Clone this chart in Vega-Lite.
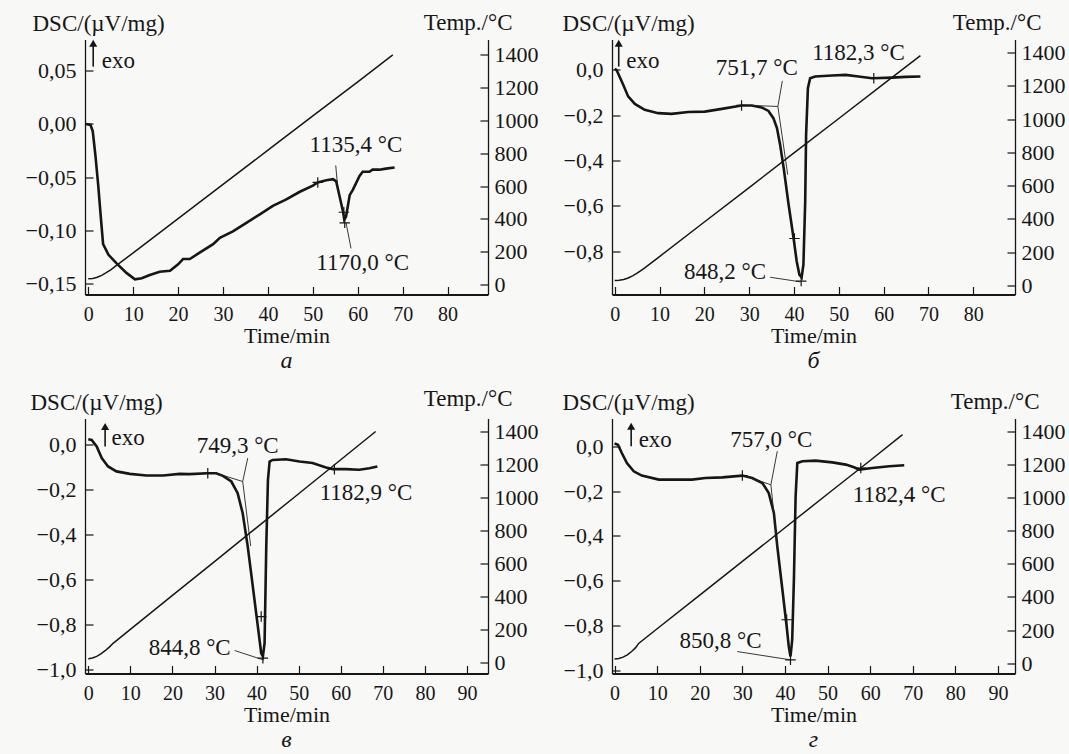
{
  "$schema": "https://vega.github.io/schema/vega-lite/v6.json",
  "autosize": {"type": "none"},
  "padding": {"left": 85, "top": 39.5, "right": 984, "bottom": 714.5},
  "background": "#f8f8f6",
  "config": {
    "view": {"stroke": null},
    "font": "Liberation Serif, Times New Roman, DejaVu Serif, serif",
    "axis": {"grid": false, "labelFont": "Liberation Serif, Times New Roman, DejaVu Serif, serif", "labelFontSize": 22, "labelColor": "#161616", "titleFont": "Liberation Serif, Times New Roman, DejaVu Serif, serif", "titleFontSize": 23, "titleFontWeight": "normal", "titleColor": "#161616", "domainColor": "#161616", "tickColor": "#161616", "tickSize": -8, "tickWidth": 1.2, "domainWidth": 1.3},
    "axisBottom": {"labelFontSize": 20, "titleFontSize": 22, "labelPadding": 18, "titleY": 31, "titleBaseline": "top", "domainWidth": 2},
    "axisLeft": {"labelPadding": 17, "titleAngle": 0, "titleAlign": "left", "titleBaseline": "middle", "titleY": -16},
    "axisRight": {"labelPadding": 14, "titleAngle": 0, "titleAlign": "right", "titleBaseline": "middle", "titleX": 24, "titleY": -17},
    "title": {"font": "Liberation Serif, Times New Roman, DejaVu Serif, serif", "fontSize": 24, "fontStyle": "italic", "fontWeight": "normal", "color": "#161616", "orient": "bottom", "baseline": "top", "offset": 2},
    "text": {"font": "Liberation Serif, Times New Roman, DejaVu Serif, serif", "fontSize": 23, "color": "#161616"}
  },
  "datasets": {
    "dsc": [
      {"p":"a","t":-0.5,"v":0.0},{"p":"a","t":0.5,"v":-0.001},{"p":"a","t":1.0,"v":-0.007},{"p":"a","t":1.6,"v":-0.03},{"p":"a","t":2.2,"v":-0.057},{"p":"a","t":2.8,"v":-0.088},{"p":"a","t":3.3,"v":-0.113},{"p":"a","t":4.5,"v":-0.123},{"p":"a","t":6.3,"v":-0.131},{"p":"a","t":8.5,"v":-0.14},{"p":"a","t":10.4,"v":-0.146},{"p":"a","t":11.9,"v":-0.145},{"p":"a","t":13.7,"v":-0.142},{"p":"a","t":15.9,"v":-0.139},{"p":"a","t":18.2,"v":-0.138},{"p":"a","t":20.0,"v":-0.132},{"p":"a","t":21.1,"v":-0.127},{"p":"a","t":22.6,"v":-0.127},{"p":"a","t":24.8,"v":-0.121},{"p":"a","t":27.8,"v":-0.113},{"p":"a","t":29.3,"v":-0.107},{"p":"a","t":32.2,"v":-0.101},{"p":"a","t":35.2,"v":-0.093},{"p":"a","t":38.2,"v":-0.085},{"p":"a","t":41.1,"v":-0.077},{"p":"a","t":44.1,"v":-0.071},{"p":"a","t":47.0,"v":-0.064},{"p":"a","t":50.0,"v":-0.058},{"p":"a","t":51.1,"v":-0.055},{"p":"a","t":53.0,"v":-0.053},{"p":"a","t":54.5,"v":-0.052},{"p":"a","t":55.2,"v":-0.054},{"p":"a","t":55.9,"v":-0.067},{"p":"a","t":56.7,"v":-0.082},{"p":"a","t":57.0,"v":-0.09},{"p":"a","t":57.4,"v":-0.087},{"p":"a","t":58.2,"v":-0.067},{"p":"a","t":58.9,"v":-0.062},{"p":"a","t":60.4,"v":-0.049},{"p":"a","t":61.1,"v":-0.045},{"p":"a","t":62.6,"v":-0.045},{"p":"a","t":63.3,"v":-0.043},{"p":"a","t":64.8,"v":-0.043},{"p":"a","t":66.3,"v":-0.042},{"p":"a","t":68.2,"v":-0.041},
      {"p":"b","t":0.0,"v":0.005},{"p":"b","t":0.4,"v":0.0},{"p":"b","t":0.75,"v":-0.015},{"p":"b","t":1.9,"v":-0.066},{"p":"b","t":3.0,"v":-0.117},{"p":"b","t":4.5,"v":-0.15},{"p":"b","t":6.7,"v":-0.176},{"p":"b","t":9.7,"v":-0.191},{"p":"b","t":12.7,"v":-0.194},{"p":"b","t":16.4,"v":-0.186},{"p":"b","t":20.1,"v":-0.184},{"p":"b","t":23.9,"v":-0.172},{"p":"b","t":28.3,"v":-0.157},{"p":"b","t":30.6,"v":-0.157},{"p":"b","t":32.8,"v":-0.166},{"p":"b","t":34.3,"v":-0.181},{"p":"b","t":35.4,"v":-0.213},{"p":"b","t":36.2,"v":-0.257},{"p":"b","t":36.9,"v":-0.33},{"p":"b","t":37.7,"v":-0.433},{"p":"b","t":38.8,"v":-0.595},{"p":"b","t":39.9,"v":-0.742},{"p":"b","t":40.6,"v":-0.844},{"p":"b","t":41.2,"v":-0.903},{"p":"b","t":41.7,"v":-0.915},{"p":"b","t":42.1,"v":-0.859},{"p":"b","t":42.5,"v":-0.58},{"p":"b","t":42.7,"v":-0.286},{"p":"b","t":43.1,"v":-0.081},{"p":"b","t":43.6,"v":-0.037},{"p":"b","t":44.7,"v":-0.029},{"p":"b","t":48.5,"v":-0.025},{"p":"b","t":51.5,"v":-0.022},{"p":"b","t":54.4,"v":-0.029},{"p":"b","t":57.4,"v":-0.037},{"p":"b","t":61.9,"v":-0.034},{"p":"b","t":64.9,"v":-0.031},{"p":"b","t":68.2,"v":-0.029},
      {"p":"v","t":0.0,"v":0.025},{"p":"v","t":0.8,"v":0.022},{"p":"v","t":2.0,"v":-0.007},{"p":"v","t":3.2,"v":-0.059},{"p":"v","t":4.7,"v":-0.096},{"p":"v","t":6.7,"v":-0.118},{"p":"v","t":9.9,"v":-0.129},{"p":"v","t":13.8,"v":-0.136},{"p":"v","t":17.8,"v":-0.136},{"p":"v","t":21.7,"v":-0.129},{"p":"v","t":24.1,"v":-0.13},{"p":"v","t":28.4,"v":-0.126},{"p":"v","t":30.4,"v":-0.126},{"p":"v","t":32.0,"v":-0.138},{"p":"v","t":34.0,"v":-0.163},{"p":"v","t":35.5,"v":-0.215},{"p":"v","t":36.7,"v":-0.304},{"p":"v","t":37.9,"v":-0.452},{"p":"v","t":39.1,"v":-0.629},{"p":"v","t":40.3,"v":-0.807},{"p":"v","t":41.1,"v":-0.926},{"p":"v","t":41.5,"v":-0.94},{"p":"v","t":41.9,"v":-0.881},{"p":"v","t":42.3,"v":-0.452},{"p":"v","t":42.7,"v":-0.156},{"p":"v","t":43.1,"v":-0.074},{"p":"v","t":43.8,"v":-0.067},{"p":"v","t":47.0,"v":-0.064},{"p":"v","t":50.2,"v":-0.074},{"p":"v","t":53.3,"v":-0.081},{"p":"v","t":56.5,"v":-0.101},{"p":"v","t":58.1,"v":-0.108},{"p":"v","t":61.2,"v":-0.108},{"p":"v","t":64.4,"v":-0.111},{"p":"v","t":66.8,"v":-0.104},{"p":"v","t":68.7,"v":-0.096},
      {"p":"g","t":0.0,"v":0.012},{"p":"g","t":0.8,"v":0.007},{"p":"g","t":1.7,"v":-0.03},{"p":"g","t":2.9,"v":-0.075},{"p":"g","t":4.5,"v":-0.112},{"p":"g","t":6.4,"v":-0.131},{"p":"g","t":10.4,"v":-0.149},{"p":"g","t":13.5,"v":-0.149},{"p":"g","t":18.2,"v":-0.149},{"p":"g","t":21.3,"v":-0.142},{"p":"g","t":25.3,"v":-0.139},{"p":"g","t":30.0,"v":-0.131},{"p":"g","t":32.3,"v":-0.142},{"p":"g","t":34.7,"v":-0.164},{"p":"g","t":36.2,"v":-0.209},{"p":"g","t":37.4,"v":-0.298},{"p":"g","t":38.2,"v":-0.447},{"p":"g","t":39.4,"v":-0.641},{"p":"g","t":40.4,"v":-0.805},{"p":"g","t":40.9,"v":-0.895},{"p":"g","t":41.3,"v":-0.939},{"p":"g","t":41.7,"v":-0.865},{"p":"g","t":42.1,"v":-0.596},{"p":"g","t":42.5,"v":-0.224},{"p":"g","t":42.9,"v":-0.075},{"p":"g","t":44.1,"v":-0.067},{"p":"g","t":47.2,"v":-0.064},{"p":"g","t":51.1,"v":-0.072},{"p":"g","t":54.3,"v":-0.082},{"p":"g","t":56.2,"v":-0.094},{"p":"g","t":57.4,"v":-0.104},{"p":"g","t":60.5,"v":-0.097},{"p":"g","t":64.5,"v":-0.089},{"p":"g","t":68.0,"v":-0.085}
    ],
    "temp": [
      {"p":"a","t":0,"T":35},{"p":"a","t":1,"T":37},{"p":"a","t":2,"T":44},{"p":"a","t":3,"T":56},{"p":"a","t":4,"T":72},{"p":"a","t":5,"T":89},{"p":"a","t":6,"T":110},{"p":"a","t":10,"T":193},{"p":"a","t":20,"T":402},{"p":"a","t":30,"T":610},{"p":"a","t":40,"T":819},{"p":"a","t":50,"T":1028},{"p":"a","t":60,"T":1236},{"p":"a","t":67.8,"T":1400},
      {"p":"b","t":0,"T":30},{"p":"b","t":1,"T":32},{"p":"b","t":2,"T":36},{"p":"b","t":3,"T":45},{"p":"b","t":4,"T":58},{"p":"b","t":5,"T":75},{"p":"b","t":6,"T":93},{"p":"b","t":6.7,"T":106},{"p":"b","t":10,"T":174},{"p":"b","t":20,"T":382},{"p":"b","t":30,"T":589},{"p":"b","t":40,"T":797},{"p":"b","t":50,"T":1004},{"p":"b","t":60,"T":1212},{"p":"b","t":68.2,"T":1382},
      {"p":"v","t":0,"T":26},{"p":"v","t":1,"T":30},{"p":"v","t":2,"T":40},{"p":"v","t":3,"T":55},{"p":"v","t":4,"T":74},{"p":"v","t":5,"T":96},{"p":"v","t":5.9,"T":119},{"p":"v","t":10,"T":203},{"p":"v","t":20,"T":409},{"p":"v","t":30,"T":614},{"p":"v","t":40,"T":820},{"p":"v","t":50,"T":1025},{"p":"v","t":60,"T":1231},{"p":"v","t":68.3,"T":1402},
      {"p":"g","t":0,"T":25},{"p":"g","t":1,"T":28},{"p":"g","t":2,"T":36},{"p":"g","t":3,"T":50},{"p":"g","t":4,"T":70},{"p":"g","t":5,"T":95},{"p":"g","t":5.65,"T":119},{"p":"g","t":10,"T":208},{"p":"g","t":20,"T":411},{"p":"g","t":30,"T":615},{"p":"g","t":40,"T":819},{"p":"g","t":50,"T":1023},{"p":"g","t":60,"T":1226},{"p":"g","t":67.6,"T":1382}
    ],
    "tangent": [
      {"p":"a","t":55.1,"v":-0.039,"t2":55.5,"v2":-0.058},{"p":"a","t":57.4,"v":-0.093,"t2":58.5,"v2":-0.117},
      {"p":"b","t":30.6,"v":-0.157,"t2":36.4,"v2":-0.1615},{"p":"b","t":37.4,"v":-0.0485,"t2":36.4,"v2":-0.1615},{"p":"b","t":36.4,"v":-0.1615,"t2":38.6,"v2":-0.4626},{"p":"b","t":34.7,"v":-0.915,"t2":41.4,"v2":-0.935},
      {"p":"v","t":30.4,"v":-0.126,"t2":36.7,"v2":-0.163},{"p":"v","t":37.9,"v":-0.059,"t2":36.7,"v2":-0.163},{"p":"v","t":36.7,"v":-0.163,"t2":38.6,"v2":-0.45},{"p":"v","t":34.8,"v":-0.914,"t2":41.5,"v2":-0.955},
      {"p":"g","t":30.7,"v":-0.134,"t2":36.7,"v2":-0.172},{"p":"g","t":38.2,"v":-0.022,"t2":36.7,"v2":-0.172},{"p":"g","t":36.7,"v":-0.172,"t2":38.2,"v2":-0.45},{"p":"g","t":28.8,"v":-0.917,"t2":41.3,"v2":-0.954}
    ],
    "cross": [
      {"p":"a","t":51.1,"v":-0.055},{"p":"a","t":56.9,"v":-0.083},{"p":"a","t":57.1,"v":-0.093},
      {"p":"b","t":28.3,"v":-0.157},{"p":"b","t":40.1,"v":-0.744},{"p":"b","t":41.6,"v":-0.932},{"p":"b","t":57.8,"v":-0.037},
      {"p":"v","t":28.4,"v":-0.126},{"p":"v","t":41.1,"v":-0.763},{"p":"v","t":41.5,"v":-0.948},{"p":"v","t":58.5,"v":-0.108},
      {"p":"g","t":30.0,"v":-0.131},{"p":"g","t":40.4,"v":-0.775},{"p":"g","t":41.3,"v":-0.954},{"p":"g","t":57.8,"v":-0.097}
    ],
    "arrow": [
      {"p":"a","t":1.1,"v":0.0538,"v2":0.0757},
      {"p":"b","t":0.9,"v":0.0147,"v2":0.117},
      {"p":"v","t":4.0,"v":-0.007,"v2":0.081},
      {"p":"g","t":3.9,"v":0.0,"v2":0.089}
    ],
    "exo": [
      {"p":"a","t":3.0,"v":0.0594,"text":"exo"},
      {"p":"b","t":2.6,"v":0.041,"text":"exo"},
      {"p":"v","t":5.5,"v":0.03,"text":"exo"},
      {"p":"g","t":5.65,"v":0.03,"text":"exo"}
    ],
    "label": [
      {"p":"a","t":59.6,"v":-0.0197,"text":"1135,4 °C"},{"p":"a","t":61.1,"v":-0.1307,"text":"1170,0 °C"},
      {"p":"b","t":31.7,"v":0.0073,"text":"751,7 °C"},{"p":"b","t":54.4,"v":0.0734,"text":"1182,3 °C"},{"p":"b","t":24.6,"v":-0.891,"text":"848,2 °C"},
      {"p":"v","t":35.5,"v":-0.003,"text":"749,3 °C"},{"p":"v","t":66.0,"v":-0.215,"text":"1182,9 °C"},{"p":"v","t":24.1,"v":-0.903,"text":"844,8 °C"},
      {"p":"g","t":36.8,"v":0.03,"text":"757,0 °C"},{"p":"g","t":66.8,"v":-0.216,"text":"1182,4 °C"},{"p":"g","t":24.9,"v":-0.872,"text":"850,8 °C"}
    ]
  },
  "columns": 2,
  "spacing": {"row": 124, "column": 124},
  "bounds": "flush",
  "concat": [
    {
      "width": 403, "height": 255,
      "title": {"text": "а"},
      "resolve": {"scale": {"y": "independent"}},
      "layer": [
        {"layer": [
          {"data": {"name": "dsc"}, "transform": [{"filter": "datum.p == 'a'"}],
           "mark": {"type": "line", "strokeWidth": 2.6, "color": "#161616"},
           "encoding": {
             "x": {"field": "t", "type": "quantitative", "title": "Time/min", "scale": {"domain": [-0.73, 89.0], "nice": false, "zero": false}, "axis": {"values": [0,10,20,30,40,50,60,70,80]}},
             "y": {"field": "v", "type": "quantitative", "title": "DSC/(µV/mg)", "scale": {"domain": [-0.1603, 0.0793], "nice": false, "zero": false}, "axis": {"orient": "left", "values": [-0.15,-0.1,-0.05,0,0.05], "labelExpr": "replace(format(datum.value,'.2f'),'.',',')", "titleX": -53}}
           }},
          {"data": {"name": "tangent"}, "transform": [{"filter": "datum.p == 'a'"}],
           "mark": {"type": "rule", "strokeWidth": 0.9, "color": "#222"},
           "encoding": {
             "x": {"field": "t", "type": "quantitative", "title": "Time/min"}, "x2": {"field": "t2"},
             "y": {"field": "v", "type": "quantitative", "title": "DSC/(µV/mg)"}, "y2": {"field": "v2"}
           }},
          {"data": {"name": "cross"}, "transform": [{"filter": "datum.p == 'a'"}],
           "mark": {"type": "point", "shape": "M-1,0L1,0M0,-1L0,1", "size": 110, "strokeWidth": 1.2, "color": "#161616", "filled": false, "opacity": 1},
           "encoding": {
             "x": {"field": "t", "type": "quantitative", "title": "Time/min"},
             "y": {"field": "v", "type": "quantitative", "title": "DSC/(µV/mg)"}
           }},
          {"data": {"name": "arrow"}, "transform": [{"filter": "datum.p == 'a'"}],
           "mark": {"type": "rule", "strokeWidth": 1.6, "color": "#161616"},
           "encoding": {
             "x": {"field": "t", "type": "quantitative", "title": "Time/min"},
             "y": {"field": "v", "type": "quantitative", "title": "DSC/(µV/mg)"}, "y2": {"field": "v2"}
           }},
          {"data": {"name": "arrow"}, "transform": [{"filter": "datum.p == 'a'"}],
           "mark": {"type": "point", "shape": "triangle-up", "size": 65, "filled": true, "color": "#161616", "opacity": 1},
           "encoding": {
             "x": {"field": "t", "type": "quantitative", "title": "Time/min"},
             "y": {"field": "v2", "type": "quantitative", "title": "DSC/(µV/mg)"}
           }},
          {"data": {"name": "exo"}, "transform": [{"filter": "datum.p == 'a'"}],
           "mark": {"type": "text", "align": "left", "baseline": "middle"},
           "encoding": {
             "x": {"field": "t", "type": "quantitative", "title": "Time/min"},
             "y": {"field": "v", "type": "quantitative", "title": "DSC/(µV/mg)"},
             "text": {"field": "text"}
           }},
          {"data": {"name": "label"}, "transform": [{"filter": "datum.p == 'a'"}],
           "mark": {"type": "text", "align": "center", "baseline": "middle"},
           "encoding": {
             "x": {"field": "t", "type": "quantitative", "title": "Time/min"},
             "y": {"field": "v", "type": "quantitative", "title": "DSC/(µV/mg)"},
             "text": {"field": "text"}
           }}
        ]},
        {"data": {"name": "temp"}, "transform": [{"filter": "datum.p == 'a'"}],
         "mark": {"type": "line", "strokeWidth": 1.5, "color": "#161616"},
         "encoding": {
           "x": {"field": "t", "type": "quantitative", "title": "Time/min"},
           "y": {"field": "T", "type": "quantitative", "title": "Temp./°C", "scale": {"domain": [-61, 1494], "nice": false, "zero": false}, "axis": {"orient": "right", "values": [0,200,400,600,800,1000,1200,1400], "format": "d"}}
         }}
      ]
    },
    {
      "width": 403, "height": 255,
      "title": {"text": "б"},
      "resolve": {"scale": {"y": "independent"}},
      "layer": [
        {"layer": [
          {"data": {"name": "dsc"}, "transform": [{"filter": "datum.p == 'b'"}],
           "mark": {"type": "line", "strokeWidth": 2.6, "color": "#161616"},
           "encoding": {
             "x": {"field": "t", "type": "quantitative", "title": "Time/min", "scale": {"domain": [-0.6, 89.3], "nice": false, "zero": false}, "axis": {"values": [0,10,20,30,40,50,60,70,80]}},
             "y": {"field": "v", "type": "quantitative", "title": "DSC/(µV/mg)", "scale": {"domain": [-0.991, 0.134], "nice": false, "zero": false}, "axis": {"orient": "left", "values": [-0.8,-0.6,-0.4,-0.2,0], "labelExpr": "replace(format(datum.value,'.1f'),'.',',')", "titleX": -50}}
           }},
          {"data": {"name": "tangent"}, "transform": [{"filter": "datum.p == 'b'"}],
           "mark": {"type": "rule", "strokeWidth": 0.9, "color": "#222"},
           "encoding": {
             "x": {"field": "t", "type": "quantitative", "title": "Time/min"}, "x2": {"field": "t2"},
             "y": {"field": "v", "type": "quantitative", "title": "DSC/(µV/mg)"}, "y2": {"field": "v2"}
           }},
          {"data": {"name": "cross"}, "transform": [{"filter": "datum.p == 'b'"}],
           "mark": {"type": "point", "shape": "M-1,0L1,0M0,-1L0,1", "size": 110, "strokeWidth": 1.2, "color": "#161616", "filled": false, "opacity": 1},
           "encoding": {
             "x": {"field": "t", "type": "quantitative", "title": "Time/min"},
             "y": {"field": "v", "type": "quantitative", "title": "DSC/(µV/mg)"}
           }},
          {"data": {"name": "arrow"}, "transform": [{"filter": "datum.p == 'b'"}],
           "mark": {"type": "rule", "strokeWidth": 1.6, "color": "#161616"},
           "encoding": {
             "x": {"field": "t", "type": "quantitative", "title": "Time/min"},
             "y": {"field": "v", "type": "quantitative", "title": "DSC/(µV/mg)"}, "y2": {"field": "v2"}
           }},
          {"data": {"name": "arrow"}, "transform": [{"filter": "datum.p == 'b'"}],
           "mark": {"type": "point", "shape": "triangle-up", "size": 65, "filled": true, "color": "#161616", "opacity": 1},
           "encoding": {
             "x": {"field": "t", "type": "quantitative", "title": "Time/min"},
             "y": {"field": "v2", "type": "quantitative", "title": "DSC/(µV/mg)"}
           }},
          {"data": {"name": "exo"}, "transform": [{"filter": "datum.p == 'b'"}],
           "mark": {"type": "text", "align": "left", "baseline": "middle"},
           "encoding": {
             "x": {"field": "t", "type": "quantitative", "title": "Time/min"},
             "y": {"field": "v", "type": "quantitative", "title": "DSC/(µV/mg)"},
             "text": {"field": "text"}
           }},
          {"data": {"name": "label"}, "transform": [{"filter": "datum.p == 'b'"}],
           "mark": {"type": "text", "align": "center", "baseline": "middle"},
           "encoding": {
             "x": {"field": "t", "type": "quantitative", "title": "Time/min"},
             "y": {"field": "v", "type": "quantitative", "title": "DSC/(µV/mg)"},
             "text": {"field": "text"}
           }}
        ]},
        {"data": {"name": "temp"}, "transform": [{"filter": "datum.p == 'b'"}],
         "mark": {"type": "line", "strokeWidth": 1.5, "color": "#161616"},
         "encoding": {
           "x": {"field": "t", "type": "quantitative", "title": "Time/min"},
           "y": {"field": "T", "type": "quantitative", "title": "Temp./°C", "scale": {"domain": [-54, 1479], "nice": false, "zero": false}, "axis": {"orient": "right", "values": [0,200,400,600,800,1000,1200,1400], "format": "d", "titleX": 26}}
         }}
      ]
    },
    {
      "width": 403, "height": 255,
      "title": {"text": "в"},
      "resolve": {"scale": {"y": "independent"}},
      "layer": [
        {"layer": [
          {"data": {"name": "dsc"}, "transform": [{"filter": "datum.p == 'v'"}],
           "mark": {"type": "line", "strokeWidth": 2.6, "color": "#161616"},
           "encoding": {
             "x": {"field": "t", "type": "quantitative", "title": "Time/min", "scale": {"domain": [-0.78, 95.0], "nice": false, "zero": false}, "axis": {"values": [0,10,20,30,40,50,60,70,80,90]}},
             "y": {"field": "v", "type": "quantitative", "title": "DSC/(µV/mg)", "scale": {"domain": [-1.016, 0.117], "nice": false, "zero": false}, "axis": {"orient": "left", "values": [-1,-0.8,-0.6,-0.4,-0.2,0], "labelExpr": "replace(format(datum.value,'.1f'),'.',',')", "titleX": -55}}
           }},
          {"data": {"name": "tangent"}, "transform": [{"filter": "datum.p == 'v'"}],
           "mark": {"type": "rule", "strokeWidth": 0.9, "color": "#222"},
           "encoding": {
             "x": {"field": "t", "type": "quantitative", "title": "Time/min"}, "x2": {"field": "t2"},
             "y": {"field": "v", "type": "quantitative", "title": "DSC/(µV/mg)"}, "y2": {"field": "v2"}
           }},
          {"data": {"name": "cross"}, "transform": [{"filter": "datum.p == 'v'"}],
           "mark": {"type": "point", "shape": "M-1,0L1,0M0,-1L0,1", "size": 110, "strokeWidth": 1.2, "color": "#161616", "filled": false, "opacity": 1},
           "encoding": {
             "x": {"field": "t", "type": "quantitative", "title": "Time/min"},
             "y": {"field": "v", "type": "quantitative", "title": "DSC/(µV/mg)"}
           }},
          {"data": {"name": "arrow"}, "transform": [{"filter": "datum.p == 'v'"}],
           "mark": {"type": "rule", "strokeWidth": 1.6, "color": "#161616"},
           "encoding": {
             "x": {"field": "t", "type": "quantitative", "title": "Time/min"},
             "y": {"field": "v", "type": "quantitative", "title": "DSC/(µV/mg)"}, "y2": {"field": "v2"}
           }},
          {"data": {"name": "arrow"}, "transform": [{"filter": "datum.p == 'v'"}],
           "mark": {"type": "point", "shape": "triangle-up", "size": 65, "filled": true, "color": "#161616", "opacity": 1},
           "encoding": {
             "x": {"field": "t", "type": "quantitative", "title": "Time/min"},
             "y": {"field": "v2", "type": "quantitative", "title": "DSC/(µV/mg)"}
           }},
          {"data": {"name": "exo"}, "transform": [{"filter": "datum.p == 'v'"}],
           "mark": {"type": "text", "align": "left", "baseline": "middle"},
           "encoding": {
             "x": {"field": "t", "type": "quantitative", "title": "Time/min"},
             "y": {"field": "v", "type": "quantitative", "title": "DSC/(µV/mg)"},
             "text": {"field": "text"}
           }},
          {"data": {"name": "label"}, "transform": [{"filter": "datum.p == 'v'"}],
           "mark": {"type": "text", "align": "center", "baseline": "middle"},
           "encoding": {
             "x": {"field": "t", "type": "quantitative", "title": "Time/min"},
             "y": {"field": "v", "type": "quantitative", "title": "DSC/(µV/mg)"},
             "text": {"field": "text"}
           }}
        ]},
        {"data": {"name": "temp"}, "transform": [{"filter": "datum.p == 'v'"}],
         "mark": {"type": "line", "strokeWidth": 1.5, "color": "#161616"},
         "encoding": {
           "x": {"field": "t", "type": "quantitative", "title": "Time/min"},
           "y": {"field": "T", "type": "quantitative", "title": "Temp./°C", "scale": {"domain": [-64, 1481], "nice": false, "zero": false}, "axis": {"orient": "right", "values": [0,200,400,600,800,1000,1200,1400], "format": "d", "titleY": -20}}
         }}
      ]
    },
    {
      "width": 403, "height": 255,
      "title": {"text": "г"},
      "resolve": {"scale": {"y": "independent"}},
      "layer": [
        {"layer": [
          {"data": {"name": "dsc"}, "transform": [{"filter": "datum.p == 'g'"}],
           "mark": {"type": "line", "strokeWidth": 2.6, "color": "#161616"},
           "encoding": {
             "x": {"field": "t", "type": "quantitative", "title": "Time/min", "scale": {"domain": [-0.6, 94.0], "nice": false, "zero": false}, "axis": {"values": [0,10,20,30,40,50,60,70,80,90]}},
             "y": {"field": "v", "type": "quantitative", "title": "DSC/(µV/mg)", "scale": {"domain": [-1.015, 0.124], "nice": false, "zero": false}, "axis": {"orient": "left", "values": [-1,-0.8,-0.6,-0.4,-0.2,0], "labelExpr": "replace(format(datum.value,'.1f'),'.',',')", "titleX": -50}}
           }},
          {"data": {"name": "tangent"}, "transform": [{"filter": "datum.p == 'g'"}],
           "mark": {"type": "rule", "strokeWidth": 0.9, "color": "#222"},
           "encoding": {
             "x": {"field": "t", "type": "quantitative", "title": "Time/min"}, "x2": {"field": "t2"},
             "y": {"field": "v", "type": "quantitative", "title": "DSC/(µV/mg)"}, "y2": {"field": "v2"}
           }},
          {"data": {"name": "cross"}, "transform": [{"filter": "datum.p == 'g'"}],
           "mark": {"type": "point", "shape": "M-1,0L1,0M0,-1L0,1", "size": 110, "strokeWidth": 1.2, "color": "#161616", "filled": false, "opacity": 1},
           "encoding": {
             "x": {"field": "t", "type": "quantitative", "title": "Time/min"},
             "y": {"field": "v", "type": "quantitative", "title": "DSC/(µV/mg)"}
           }},
          {"data": {"name": "arrow"}, "transform": [{"filter": "datum.p == 'g'"}],
           "mark": {"type": "rule", "strokeWidth": 1.6, "color": "#161616"},
           "encoding": {
             "x": {"field": "t", "type": "quantitative", "title": "Time/min"},
             "y": {"field": "v", "type": "quantitative", "title": "DSC/(µV/mg)"}, "y2": {"field": "v2"}
           }},
          {"data": {"name": "arrow"}, "transform": [{"filter": "datum.p == 'g'"}],
           "mark": {"type": "point", "shape": "triangle-up", "size": 65, "filled": true, "color": "#161616", "opacity": 1},
           "encoding": {
             "x": {"field": "t", "type": "quantitative", "title": "Time/min"},
             "y": {"field": "v2", "type": "quantitative", "title": "DSC/(µV/mg)"}
           }},
          {"data": {"name": "exo"}, "transform": [{"filter": "datum.p == 'g'"}],
           "mark": {"type": "text", "align": "left", "baseline": "middle"},
           "encoding": {
             "x": {"field": "t", "type": "quantitative", "title": "Time/min"},
             "y": {"field": "v", "type": "quantitative", "title": "DSC/(µV/mg)"},
             "text": {"field": "text"}
           }},
          {"data": {"name": "label"}, "transform": [{"filter": "datum.p == 'g'"}],
           "mark": {"type": "text", "align": "center", "baseline": "middle"},
           "encoding": {
             "x": {"field": "t", "type": "quantitative", "title": "Time/min"},
             "y": {"field": "v", "type": "quantitative", "title": "DSC/(µV/mg)"},
             "text": {"field": "text"}
           }}
        ]},
        {"data": {"name": "temp"}, "transform": [{"filter": "datum.p == 'g'"}],
         "mark": {"type": "line", "strokeWidth": 1.5, "color": "#161616"},
         "encoding": {
           "x": {"field": "t", "type": "quantitative", "title": "Time/min"},
           "y": {"field": "T", "type": "quantitative", "title": "Temp./°C", "scale": {"domain": [-63, 1480], "nice": false, "zero": false}, "axis": {"orient": "right", "values": [0,200,400,600,800,1000,1200,1400], "format": "d"}}
         }}
      ]
    }
  ]
}
